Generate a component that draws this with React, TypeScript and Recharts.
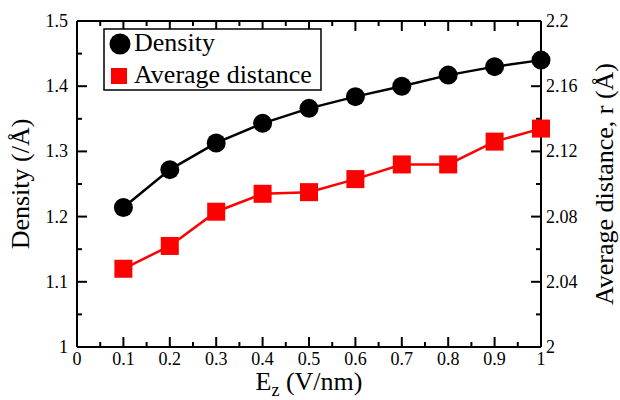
import React from 'react'
import { ComposedChart, Line, Scatter, XAxis, YAxis, Legend } from 'recharts'

// E_z (V/nm)
const fieldValues = [0.1, 0.2, 0.3, 0.4, 0.5, 0.6, 0.7, 0.8, 0.9, 1.0]
const densityValues = [1.214, 1.272, 1.313, 1.343, 1.366, 1.384, 1.4, 1.417, 1.43, 1.44]
const distanceValues = [2.048, 2.062, 2.083, 2.094, 2.095, 2.103, 2.112, 2.112, 2.126, 2.134]

// ticks: every other one is a major tick with a label
const xTicks = [0, 0.05, 0.1, 0.15, 0.2, 0.25, 0.3, 0.35, 0.4, 0.45, 0.5, 0.55, 0.6, 0.65, 0.7, 0.75, 0.8, 0.85, 0.9, 0.95, 1]
const xLabels = ['0', '0.1', '0.2', '0.3', '0.4', '0.5', '0.6', '0.7', '0.8', '0.9', '1']
const densityTicks = [1, 1.05, 1.1, 1.15, 1.2, 1.25, 1.3, 1.35, 1.4, 1.45, 1.5]
const densityLabels = ['1', '1.1', '1.2', '1.3', '1.4', '1.5']
const distanceTicks = [2, 2.02, 2.04, 2.06, 2.08, 2.1, 2.12, 2.14, 2.16, 2.18, 2.2]
const distanceLabels = ['2', '2.04', '2.08', '2.12', '2.16', '2.2']
const seriesOrder = ['Density', 'Average distance']

const data = fieldValues.map((f, i) => ({
  field: f,
  density: densityValues[i],
  distance: distanceValues[i],
}))

// tick mark positions, placed through the axes' scales
const bottomMarks = xTicks.map((v, i) => ({ field: v, val: densityTicks[0], major: i % 2 === 0 }))
const topMarks = xTicks.map((v, i) => ({ field: v, val: densityTicks[densityTicks.length - 1], major: i % 2 === 0 }))
const leftMarks = densityTicks.map((v, i) => ({ field: xTicks[0], val: v, major: i % 2 === 0 }))
const rightMarks = distanceTicks.map((v, i) => ({ field: xTicks[xTicks.length - 1], val: v, major: i % 2 === 0 }))

const FONT = 'Liberation Serif'
const GAP = 6
const len = (p: any) => (p.payload && p.payload.major ? 10 : 5)

const BottomMark = (p: any) => <rect x={p.cx - 1} y={p.cy - len(p)} width={2} height={len(p)} fill="#000" />
const TopMark = (p: any) => <rect x={p.cx - 1} y={p.cy} width={2} height={len(p)} fill="#000" />
const LeftMark = (p: any) => <rect x={p.cx} y={p.cy - 1} width={len(p)} height={2} fill="#000" />
const RightMark = (p: any) => <rect x={p.cx - len(p)} y={p.cy - 1} width={len(p)} height={2} fill="#000" />

const BottomTick = (props: any) => {
  const { x, y, index } = props
  if (index % 2 !== 0) return <g />
  return (
    <text x={x} y={y - GAP + 18} textAnchor="middle" fontSize={18} fontFamily={FONT} fill="#000">
      {xLabels[index / 2]}
    </text>
  )
}

const LeftTick = (props: any) => {
  const { x, y, index } = props
  if (index % 2 !== 0) return <g />
  return (
    <text x={x + GAP - 9} y={y + 6} textAnchor="end" fontSize={18} fontFamily={FONT} fill="#000">
      {densityLabels[index / 2]}
    </text>
  )
}

const RightTick = (props: any) => {
  const { x, y, index } = props
  if (index % 2 !== 0) return <g />
  return (
    <text x={x - GAP + 5} y={y + 6} textAnchor="start" fontSize={18} fontFamily={FONT} fill="#000">
      {distanceLabels[index / 2]}
    </text>
  )
}

const XTitle = (props: any) => {
  const { viewBox } = props
  const cx = viewBox.x + viewBox.width / 2
  return (
    <text x={cx} y={viewBox.y + 43} textAnchor="middle" fontSize={26} fontFamily={FONT} fill="#000">
      E<tspan fontSize={18} dy={6}>z</tspan>
      <tspan dy={-6}> (V/nm)</tspan>
    </text>
  )
}

const LeftTitle = (props: any) => {
  const { viewBox } = props
  const cy = viewBox.y + viewBox.height / 2
  return (
    <text x={29} y={cy} transform={`rotate(-90, 29, ${cy})`} textAnchor="middle" fontSize={26} fontFamily={FONT} fill="#000">
      Density (/Å)
    </text>
  )
}

const RightTitle = (props: any) => {
  const { viewBox } = props
  const cy = viewBox.y + viewBox.height / 2
  const tx = viewBox.x + 72
  return (
    <text x={tx} y={cy} transform={`rotate(-90, ${tx}, ${cy})`} textAnchor="middle" fontSize={26} fontFamily={FONT} fill="#000">
      Average distance, r (Å)
    </text>
  )
}

const SquareDot = (props: any) => {
  const { cx, cy, index } = props
  return <rect key={`sq-${index}`} x={cx - 9} y={cy - 9} width={18} height={18} fill="#ff0000" />
}

const LegendBox = (props: any) => {
  const items = (props.payload || [])
    .filter((e: any) => seriesOrder.includes(e.value))
    .sort((a: any, b: any) => seriesOrder.indexOf(a.value) - seriesOrder.indexOf(b.value))
  return (
    <svg width={219} height={63} style={{ display: 'block' }}>
      <rect x={1} y={1} width={217} height={61} fill="#fff" stroke="#000" strokeWidth={1.5} />
      {items.map((entry: any, i: number) => {
        const cy = 16 + i * 32
        return (
          <g key={entry.value}>
            {entry.type === 'circle' ? (
              <circle cx={17} cy={cy} r={10.5} fill={entry.color} />
            ) : (
              <rect x={8} y={cy - 8} width={16} height={16} fill={entry.color} />
            )}
            <text x={31} y={cy + 7} fontSize={26} fontFamily={FONT} fill="#000">
              {entry.value}
            </text>
          </g>
        )
      })}
    </svg>
  )
}

export default function App() {
  return (
    <div style={{ position: 'absolute', left: 0, top: 0, background: '#fff' }}>
      <ComposedChart width={620} height={400} data={data} margin={{ top: 0, right: 0, bottom: 0, left: 0 }}>
        <XAxis
          xAxisId="b"
          dataKey="field"
          type="number"
          domain={[0, 1]}
          ticks={xTicks}
          interval={0}
          height={53}
          tickSize={0}
          tickMargin={GAP}
          tickLine={false}
          tick={BottomTick}
          axisLine={{ stroke: '#000', strokeWidth: 2 }}
          label={<XTitle />}
        />
        <XAxis
          xAxisId="t"
          orientation="top"
          dataKey="field"
          type="number"
          domain={[0, 1]}
          ticks={xTicks}
          interval={0}
          height={21}
          tickSize={0}
          tickLine={false}
          tick={false}
          axisLine={{ stroke: '#000', strokeWidth: 2 }}
        />
        <YAxis
          yAxisId="left"
          type="number"
          domain={[1, 1.5]}
          ticks={densityTicks}
          interval={0}
          width={77}
          tickSize={0}
          tickMargin={GAP}
          tickLine={false}
          tick={LeftTick}
          axisLine={{ stroke: '#000', strokeWidth: 2 }}
          label={<LeftTitle />}
        />
        <YAxis
          yAxisId="right"
          orientation="right"
          type="number"
          domain={[2, 2.2]}
          ticks={distanceTicks}
          interval={0}
          width={79}
          tickSize={0}
          tickMargin={GAP}
          tickLine={false}
          tick={RightTick}
          axisLine={{ stroke: '#000', strokeWidth: 2 }}
          label={<RightTitle />}
        />
        <Legend
          layout="vertical"
          align="center"
          verticalAlign="middle"
          content={<LegendBox />}
          wrapperStyle={{ left: 103, top: 28, width: 219, height: 63 }}
        />
        <Scatter xAxisId="b" yAxisId="left" data={bottomMarks} dataKey="val" shape={BottomMark} legendType="none" isAnimationActive={false} />
        <Scatter xAxisId="t" yAxisId="left" data={topMarks} dataKey="val" shape={TopMark} legendType="none" isAnimationActive={false} />
        <Scatter xAxisId="b" yAxisId="left" data={leftMarks} dataKey="val" shape={LeftMark} legendType="none" isAnimationActive={false} />
        <Scatter xAxisId="t" yAxisId="right" data={rightMarks} dataKey="val" shape={RightMark} legendType="none" isAnimationActive={false} />
        <Line
          xAxisId="b"
          yAxisId="left"
          dataKey="density"
          name="Density"
          legendType="circle"
          type="linear"
          stroke="#000"
          strokeWidth={2.5}
          dot={{ r: 9.5, fill: '#000', stroke: '#000', strokeWidth: 0 }}
          isAnimationActive={false}
        />
        <Line
          xAxisId="t"
          yAxisId="right"
          dataKey="distance"
          name="Average distance"
          legendType="square"
          type="linear"
          stroke="#ff0000"
          strokeWidth={2.5}
          dot={SquareDot}
          isAnimationActive={false}
        />
      </ComposedChart>
    </div>
  )
}
